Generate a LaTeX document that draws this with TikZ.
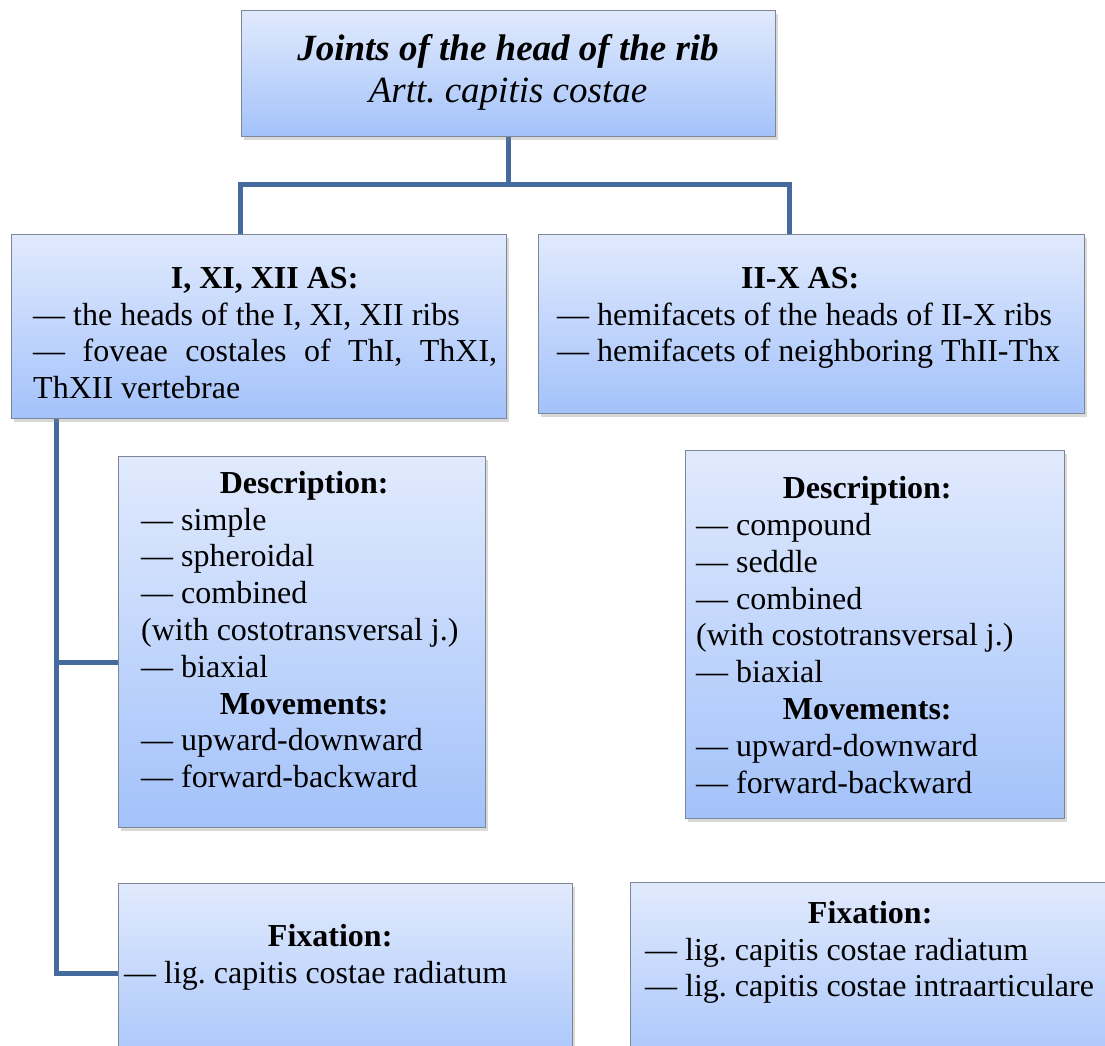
\documentclass[tikz,border=0pt]{standalone}
\usepackage{fontspec}
\setmainfont{Liberation Serif}
\usetikzlibrary{shadows,backgrounds}
\definecolor{boxtop}{RGB}{225,234,253}
\definecolor{boxbot}{RGB}{163,194,250}
\definecolor{boxline}{RGB}{125,135,150}
\definecolor{linkblue}{RGB}{68,106,158}
% centred bold heading in a box of given width
\newcommand\hdg[2]{\makebox[#1][c]{\bfseries #2}}
% natural word spacing of the font
\newcommand\tsp{\spaceskip=0.25em plus 0.125em minus 0.08em\relax\frenchspacing}
% fixed word spacing for centred lines
\newcommand\tspfix{\spaceskip=0.25em\relax\frenchspacing}
\begin{document}
\begin{tikzpicture}[x=1pt,y=-1pt,
  box/.style={draw=boxline, line width=1pt, top color=boxtop, bottom color=boxbot,
    anchor=north west, inner sep=0,
    drop shadow={shadow xshift=2.5pt, shadow yshift=-3pt, opacity=0.3}},
  conn/.style={draw=linkblue, line width=5pt},
  txt/.style={anchor=north west, inner sep=0, align=left,
    font=\fontsize{32}{36.8}\selectfont},
]
\useasboundingbox (0,0) rectangle (1105,1045);
\clip (0,0) rectangle (1105,1045);

% boxes
\node[box, minimum width=534pt, minimum height=126pt] (top) at (241,10) {};
\node[box, minimum width=495pt, minimum height=184pt] (asL) at (11,234) {};
\node[box, minimum width=546pt, minimum height=179pt] (asR) at (538,234) {};
\node[box, minimum width=367pt, minimum height=371pt] (descL) at (118,456) {};
\node[box, minimum width=379pt, minimum height=368pt] (descR) at (685,450) {};
\node[box, minimum width=454pt, minimum height=200pt] (fixL) at (118,883) {};
\node[box, minimum width=500pt, minimum height=200pt] (fixR) at (630,882) {};

% texts
\node[txt, text width=534pt, align=center, anchor=north,
  font=\fontsize{37}{42}\selectfont\bfseries\itshape] (topT) at (508,30.6)
  {\tspfix\strut Joints of the head of the rib\\ {\mdseries\tspfix Artt. capitis costae}};

\node[txt, text width=464pt] (asLT) at (33,262.24)
  {\tsp\strut\hdg{463pt}{I, XI, XII AS:}\\
   — the heads of the I, XI, XII ribs\\
   \makebox[464pt][s]{— foveae costales of ThI, ThXI,}\\
   ThXII vertebrae};

\node[txt, text width=510pt] (asRT) at (557,262.24)
  {\tsp\strut\hdg{486pt}{II-X AS:}\\
   — hemifacets of the heads of II-X ribs\\
   — hemifacets of neighboring ThII-Thx};

\node[txt, text width=330pt] (descLT) at (141,467.24)
  {\tsp\strut\hdg{326pt}{Description:}\\
   — simple\\
   — spheroidal\\
   — combined\\
   (with costotransversal j.)\\
   — biaxial\\
   \hdg{326pt}{Movements:}\\
   — upward-downward\\
   — forward-backward};

\node[txt, text width=345pt] (descRT) at (696,472.74)
  {\tsp\strut\hdg{342pt}{Description:}\\
   — compound\\
   — seddle\\
   — combined\\
   (with costotransversal j.)\\
   — biaxial\\
   \hdg{342pt}{Movements:}\\
   — upward-downward\\
   — forward-backward};

\node[txt, text width=412pt] (fixLT) at (124,920.24)
  {\tsp\strut\hdg{412pt}{Fixation:}\\
   — lig. capitis costae radiatum};

\node[txt, text width=455pt] (fixRT) at (645,897.24)
  {\tsp\strut\hdg{450pt}{Fixation:}\\
   — lig. capitis costae radiatum\\
   — lig. capitis costae intraarticulare};

% connectors
\coordinate (tL) at (240,184);
\coordinate (tR) at (789,184);
\coordinate (k1) at (56,662);
\coordinate (k2) at (56,973);
\begin{scope}[on background layer]
  \draw[conn] (top.south) -- (top.south |- tL);
  \draw[conn] (asL.north -| tL) -- (tL) -- (tR) -- (asR.north -| tR);
  \draw[conn] (asL.south -| k1) -- (k2) -- (fixL.west |- k2);
  \draw[conn] (k1) -- (descL.west |- k1);
\end{scope}
\end{tikzpicture}
\end{document}
